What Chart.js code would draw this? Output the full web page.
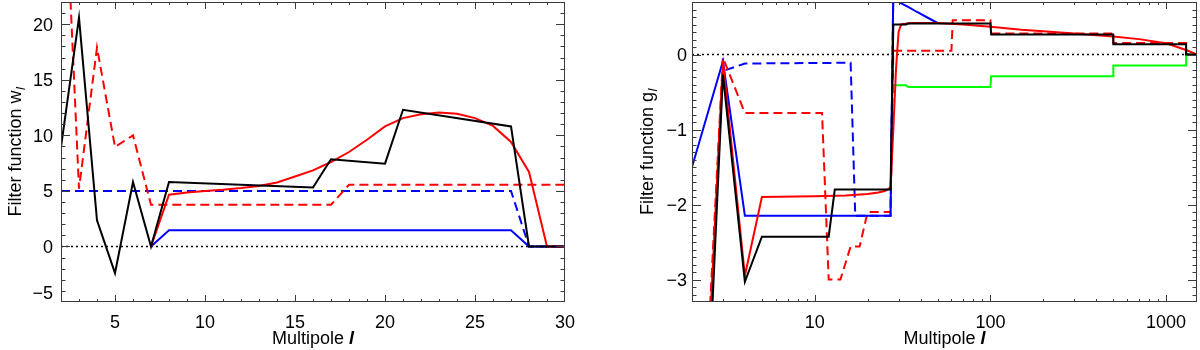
<!DOCTYPE html>
<html>
<head>
<meta charset="utf-8">
<script src="https://cdn.jsdelivr.net/npm/chart.js@4.4.1/dist/chart.umd.min.js"></script>
<style>
html,body{margin:0;padding:0;background:#fff;width:1200px;height:350px;overflow:hidden}
canvas{position:absolute;top:0}
#c1{left:0}
#c2{left:600px}
</style>
</head>
<body>
<canvas id="c1" width="600" height="350"></canvas>
<canvas id="c2" width="600" height="350"></canvas>
<script>
// ---------------- Left panel: filter function w_l vs multipole l (linear) ----------------
const wBlackL = [2, 3, 4, 5, 6, 7, 8, 16, 17, 20, 21, 27, 28, 30];
const wBlackY = [8.95, 20.6, 2.35, -2.4, 5.8, 0, 5.8, 5.3, 7.85, 7.45, 12.3, 10.8, 0, 0];

const wRedL = [7, 8, 9, 10, 11, 12, 13, 14, 15, 16, 17, 18, 19, 20, 21, 22, 23, 24, 25, 26, 27, 28, 29, 30];
const wRedY = [0, 4.65, 4.85, 5.0, 5.1, 5.25, 5.45, 5.75, 6.3, 6.85, 7.6, 8.5, 9.6, 10.8, 11.55, 11.9, 12.05, 11.95, 11.55, 10.85, 9.4, 6.7, 0, 0];

const wRedDashL = [2, 3, 4, 5, 6, 7, 17, 18, 30];
const wRedDashY = [41, 5.2, 17.9, 8.95, 10.0, 3.75, 3.75, 5.55, 5.55];

const wBlueDashL = [2, 27, 28, 30];
const wBlueDashY = [5.0, 5.0, 0, 0];

const wBlueL = [7, 8, 27, 28, 30];
const wBlueY = [0, 1.45, 1.45, 0, 0];

const wZeroL = [2, 30];
const wZeroY = [0, 0];

const leftXMajor = [5, 10, 15, 20, 25, 30];
const leftYMajor = [-5, 0, 5, 10, 15, 20];

// ---------------- Right panel: filter function g_l vs multipole l (log) ----------------
const gBlackL = [2, 3, 4, 5, 12, 13, 27, 28, 33, 34, 100, 101, 500, 501, 1300, 1301, 1500];
const gBlackY = [-9.3, -0.27, -3.03, -2.43, -2.43, -1.8, -1.8, 0.40, 0.40, 0.413, 0.413, 0.267, 0.267, 0.137, 0.137, 0, 0];

const gRedL = [2, 3, 4, 5, 10, 15, 20, 23, 25, 26, 27, 28, 29, 30, 31, 35, 50, 70, 100, 150, 200, 300, 500, 700, 1000, 1300, 1500];
const gRedY = [-8.5, -0.08, -2.95, -1.9, -1.89, -1.88, -1.86, -1.84, -1.82, -1.80, -1.77, -1.0, -0.2, 0.3, 0.40, 0.42, 0.42, 0.40, 0.37, 0.33, 0.31, 0.28, 0.24, 0.205, 0.15, 0.06, 0.0];

const gRedDashL = [2, 3, 4, 11, 12, 14, 16, 18, 20, 27, 28, 60, 61, 100, 101, 500, 501, 1300, 1301, 1500];
const gRedDashY = [-8.0, -0.04, -0.78, -0.78, -3.0, -3.0, -2.56, -2.56, -2.1, -2.1, 0.05, 0.05, 0.457, 0.457, 0.28, 0.28, 0.155, 0.155, 0, 0];

const gBlueL = [2, 3, 4, 27, 28, 30, 34, 38, 44, 50];
const gBlueY = [-1.5, -0.09, -2.15, -2.15, 0.85, 0.70, 0.635, 0.57, 0.49, 0.42];

const gBlueDashL = [2, 3, 4, 16, 17, 27, 28];
const gBlueDashY = [-8.2, -0.22, -0.12, -0.11, -2.15, -2.15, 0.85];

const gGreenL = [28, 33, 34, 100, 101, 500, 501, 1300, 1301, 1500];
const gGreenY = [-0.41, -0.41, -0.432, -0.432, -0.29, -0.29, -0.147, -0.147, 0, 0];

const gZeroL = [2, 1500];
const gZeroY = [0, 0];

const rightXMajor = [10, 100, 1000];
const rightYMajor = [-3, -2, -1, 0];

// ---------------------------------------------------------------------------------------
const FONT = '"Liberation Sans", Arial, Helvetica, sans-serif';
const FS = 18;
const RED = '#ff0000', BLUE = '#0000ff', BLACK = '#000000', GREEN = '#00ff00';

function pts(xs, ys) { return xs.map((x, i) => ({ x: x, y: ys[i] })); }

function ds(xs, ys, color, order, opts) {
  return Object.assign({
    data: pts(xs, ys), borderColor: color, backgroundColor: color,
    borderWidth: 2, pointRadius: 0, tension: 0, fill: false, order: order, clip: 0
  }, opts || {});
}

function axesPlugin(cfg) {
  return {
    id: 'idlAxes',
    afterDatasetsDraw(chart) {
      const ctx = chart.ctx, a = chart.chartArea;
      const xs = chart.scales.x, ys = chart.scales.y;
      const L = Math.round(a.left), R = Math.round(a.right), T = Math.round(a.top), B = Math.round(a.bottom);
      ctx.save();
      ctx.strokeStyle = '#3a3a3a';
      ctx.lineWidth = 1;
      ctx.strokeRect(L + 0.5, T + 0.5, R - L - 1, B - T - 1);
      ctx.beginPath();
      const xTick = (v, len) => {
        const p = Math.round(xs.getPixelForValue(v)) + 0.5;
        if (p < L || p > R) return;
        ctx.moveTo(p, B); ctx.lineTo(p, B - len);
        ctx.moveTo(p, T); ctx.lineTo(p, T + len);
      };
      const yTick = (v, len) => {
        const p = Math.round(ys.getPixelForValue(v)) + 0.5;
        if (p < T || p > B) return;
        ctx.moveTo(L, p); ctx.lineTo(L + len, p);
        ctx.moveTo(R, p); ctx.lineTo(R - len, p);
      };
      cfg.xMinor.forEach(v => xTick(v, 3));
      cfg.xMajor.forEach(v => xTick(v, 7));
      cfg.yMinor.forEach(v => yTick(v, 4.5));
      cfg.yMajor.forEach(v => yTick(v, 9));
      ctx.stroke();

      // tick labels
      ctx.fillStyle = '#000';
      ctx.font = FS + 'px ' + FONT;
      ctx.textBaseline = 'alphabetic';
      ctx.textAlign = 'center';
      cfg.xMajor.forEach(v => {
        ctx.fillText(String(v), xs.getPixelForValue(v), B + 26);
      });
      ctx.textAlign = 'right';
      cfg.yMajor.forEach(v => {
        let p = ys.getPixelForValue(v);
        if (p > B - 10) p = B - 10;
        const t = v < 0 ? '\u2212' + Math.abs(v) : String(v);
        ctx.fillText(t, L - cfg.yLabelGap, p + 6.5);
      });

      // x title: "Multipole l"
      const cx = (L + R) / 2;
      ctx.textAlign = 'left';
      ctx.font = FS + 'px ' + FONT;
      const t1 = 'Multipole ';
      const w1 = ctx.measureText(t1).width;
      ctx.font = 'italic bold ' + FS + 'px ' + FONT;
      const w2 = ctx.measureText('l').width;
      const x0 = cx - (w1 + w2) / 2;
      ctx.font = FS + 'px ' + FONT;
      ctx.fillText(t1, x0, 344);
      ctx.font = 'italic bold ' + FS + 'px ' + FONT;
      ctx.fillText('l', x0 + w1, 344);

      // y title: "Filter function w_l" / "g_l"
      ctx.save();
      ctx.translate(cfg.yTitleX, (T + B) / 2);
      ctx.rotate(-Math.PI / 2);
      ctx.font = FS + 'px ' + FONT;
      const s1 = cfg.yTitle;
      const ws1 = ctx.measureText(s1).width;
      ctx.font = 'italic 13px ' + FONT;
      const ws2 = ctx.measureText('l').width;
      const y0 = -(ws1 + ws2) / 2;
      ctx.font = FS + 'px ' + FONT;
      ctx.fillText(s1, y0, 0);
      ctx.font = 'italic 13px ' + FONT;
      ctx.fillText('l', y0 + ws1 + 0.5, 4);
      ctx.restore();

      ctx.restore();
    }
  };
}

function range(a, b, step) {
  const out = [];
  for (let v = a; v <= b + 1e-9; v += step) out.push(Math.round(v * 1000) / 1000);
  return out;
}

const leftCfg = {
  xMajor: leftXMajor, xMinor: range(2, 30, 1),
  yMajor: leftYMajor, yMinor: range(-5, 22, 1),
  yLabelGap: 8, yTitle: 'Filter function w', yTitleX: 21
};

const logMinor = [];
[1, 10, 100, 1000].forEach(d => { for (let k = 2; k <= 9; k++) { const v = k * d; if (v >= 2 && v <= 1500) logMinor.push(v); } });

const rightCfg = {
  xMajor: rightXMajor, xMinor: logMinor,
  yMajor: rightYMajor, yMinor: range(-3.3, 0.7, 0.1),
  yLabelGap: 5, yTitle: 'Filter function g', yTitleX: 53
};

const baseOpts = (xScale, yScale, padRight, yWidth) => ({
  responsive: false, animation: false, devicePixelRatio: 1,
  layout: { padding: { top: 2, right: padRight, bottom: 0, left: 0 } },
  plugins: { legend: { display: false }, tooltip: { enabled: false } },
  elements: { line: { borderCapStyle: 'butt', borderJoinStyle: 'miter' } },
  scales: {
    x: Object.assign({
      ticks: { display: false }, grid: { display: false }, border: { display: false },
      afterFit(s) { s.height = 48; }
    }, xScale),
    y: Object.assign({
      type: 'linear', ticks: { display: false }, grid: { display: false }, border: { display: false },
      afterFit(s) { s.width = yWidth; }
    }, yScale)
  }
});

new Chart(document.getElementById('c1'), {
  type: 'line',
  data: {
    datasets: [
      ds(wBlackL, wBlackY, BLACK, 1),
      ds(wRedL, wRedY, RED, 2),
      ds(wBlueL, wBlueY, BLUE, 3),
      ds(wRedDashL, wRedDashY, RED, 4, { borderDash: [9, 5] }),
      ds(wBlueDashL, wBlueDashY, BLUE, 5, { borderDash: [9, 5] }),
      ds(wZeroL, wZeroY, BLACK, 6, { borderDash: [2, 3], borderWidth: 1.5 })
    ]
  },
  options: baseOpts({ type: 'linear', min: 2, max: 30 }, { min: -5, max: 22 }, 35, 61),
  plugins: [axesPlugin(leftCfg)]
});

new Chart(document.getElementById('c2'), {
  type: 'line',
  data: {
    datasets: [
      ds(gBlackL, gBlackY, BLACK, 1),
      ds(gRedL, gRedY, RED, 2),
      ds(gBlueL, gBlueY, BLUE, 3),
      ds(gGreenL, gGreenY, GREEN, 4),
      ds(gRedDashL, gRedDashY, RED, 5, { borderDash: [9, 5] }),
      ds(gBlueDashL, gBlueDashY, BLUE, 6, { borderDash: [9, 5] }),
      ds(gZeroL, gZeroY, BLACK, 7, { borderDash: [2, 3], borderWidth: 1.5 })
    ]
  },
  options: baseOpts({ type: 'logarithmic', min: 2, max: 1500 }, { min: -3.3, max: 0.7 }, 3, 92),
  plugins: [axesPlugin(rightCfg)]
});
</script>
</body>
</html>
